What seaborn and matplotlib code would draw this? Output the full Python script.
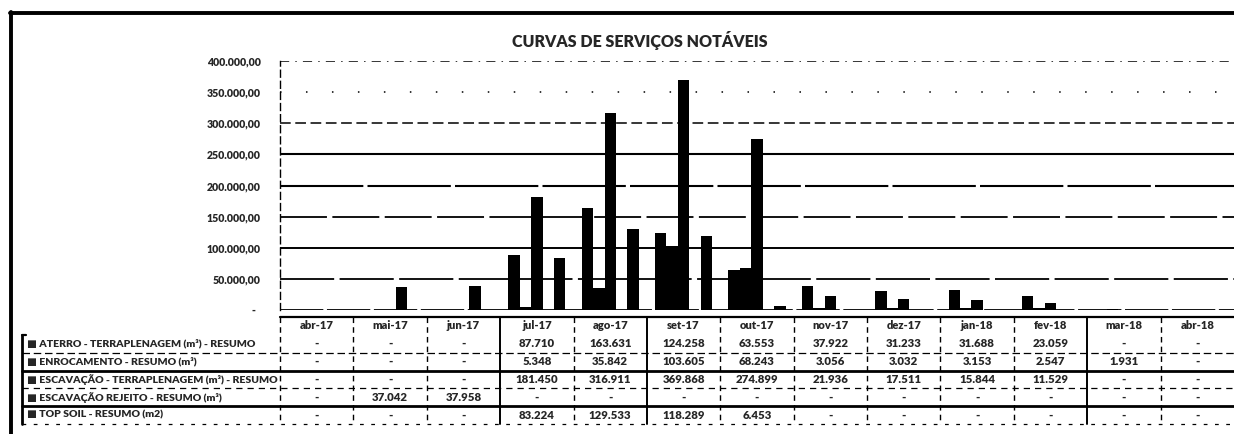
import matplotlib
matplotlib.use("Agg")
import matplotlib.pyplot as plt
import matplotlib.transforms as mtransforms
from matplotlib.lines import Line2D
import numpy as np
import pandas as pd
import seaborn as sns

# ---- data -------------------------------------------------------------
meses = ["abr-17", "mai-17", "jun-17", "jul-17", "ago-17", "set-17", "out-17",
         "nov-17", "dez-17", "jan-18", "fev-18", "mar-18", "abr-18"]

series = ["ATERRO - TERRAPLENAGEM (m³) - RESUMO",
          "ENROCAMENTO - RESUMO (m³)",
          "ESCAVAÇÃO - TERRAPLENAGEM (m³) - RESUMO",
          "ESCAVAÇÃO REJEITO - RESUMO (m³)",
          "TOP SOIL - RESUMO (m2)"]

aterro      = [0, 0, 0, 87710, 163631, 124258, 63553, 37922, 31233, 31688, 23059, 0, 0]
enrocamento = [0, 0, 0, 5348, 35842, 103605, 68243, 3056, 3032, 3153, 2547, 1931, 0]
escavacao   = [0, 0, 0, 181450, 316911, 369868, 274899, 21936, 17511, 15844, 11529, 0, 0]
rejeito     = [0, 37042, 37958, 0, 0, 0, 0, 0, 0, 0, 0, 0, 0]
top_soil    = [0, 0, 0, 83224, 129533, 118289, 6453, 0, 0, 0, 0, 0, 0]

y_ticks = [0, 50000, 100000, 150000, 200000, 250000, 300000, 350000, 400000]

valores = [aterro, enrocamento, escavacao, rejeito, top_soil]

df = pd.DataFrame(
    [(m, s, v) for s, vals in zip(series, valores) for m, v in zip(meses, vals)],
    columns=["mes", "serie", "valor"],
)

# ---- style ------------------------------------------------------------
sns.set_style("white")
plt.rcParams["font.family"] = ["Lato", "DejaVu Sans"]
plt.rcParams["font.weight"] = "bold"
PESO = "heavy"

W, H = 1234, 434
fig = plt.figure(figsize=(W / 100, H / 100), dpi=100)
fig.patch.set_facecolor("white")

x_left, x_right = 280, 1234
ax = fig.add_axes([x_left / W, 1 - 310 / H, (x_right - x_left) / W, (310 - 61) / H])

sns.barplot(data=df, x="mes", y="valor", hue="serie", hue_order=series,
            order=meses, palette=["black"] * len(series), saturation=1,
            width=0.78, errorbar=None, legend=False, ax=ax, zorder=3)
for p in ax.patches:
    p.set_edgecolor("none")

ax.set_xlim(-0.5, len(meses) - 0.5)
ax.set_ylim(0, max(y_ticks))
ax.set_xlabel("")
ax.set_ylabel("")
ax.set_xticks([])


def fmt_eixo(v):
    if v == 0:
        return "-  "
    return f"{v:,.2f}".replace(",", "X").replace(".", ",").replace("X", ".")


def fmt_tab(v):
    if v == 0:
        return "-"
    return f"{v:,.0f}".replace(",", ".")


ax.set_yticks(y_ticks)
ax.set_yticklabels([fmt_eixo(t) for t in y_ticks], fontsize=7.6, fontweight=PESO)
ax.tick_params(axis="y", length=0, pad=14)

for s in ["top", "right", "bottom"]:
    ax.spines[s].set_visible(False)
ax.spines["left"].set_linestyle((0, (5, 3)))
ax.spines["left"].set_linewidth(1.0)
ax.spines["left"].set_color("black")

# gridlines, drawn in the coarse look of a photocopied sheet
grid_styles = {
    0: ((0, (24, 2)), 1.3),
    50000: ((0, (30, 3)), 1.3),
    100000: ("-", 1.4),
    150000: ((0, (26, 3)), 1.3),
    200000: ((0, (40, 2)), 1.5),
    250000: ("-", 1.5),
    300000: ((0, (7, 3)), 1.1),
    350000: ((0, (1, 16)), 1.1),
    400000: ((0, (6, 4, 1, 4)), 1.1),
}
for t in y_ticks:
    ls, lw = grid_styles[t]
    ax.axhline(t, color="black", linestyle=ls, linewidth=lw, zorder=1)

# ---- data table -------------------------------------------------------
tab_top, tab_bot = 317, 424
axt = fig.add_axes([x_left / W, 1 - tab_bot / H, (x_right - x_left) / W, (tab_bot - tab_top) / H])
axt.set_xlim(-0.5, len(meses) - 0.5)
axt.set_ylim(len(series) + 1, 0)
axt.axis("off")

for i, m in enumerate(meses):
    axt.text(i, 0.5, m, ha="center", va="center", fontsize=8, fontweight=PESO)
for r, vals in enumerate(valores, start=1):
    for i, v in enumerate(vals):
        axt.text(i, r + 0.5, fmt_tab(v), ha="center", va="center",
                 fontsize=8.2, fontweight=PESO)

blend = mtransforms.blended_transform_factory(fig.transFigure, axt.transData)
lab_x = 27 / W
for r, s in enumerate(series, start=1):
    axt.text(lab_x, r + 0.5, "■ " + s, transform=blend, ha="left", va="center",
             fontsize=7.55, fontweight=PESO, clip_on=False)

# horizontal rules of the table
x0_fig, x1_fig = 22 / W, 1.0
h_rules = [(0, "-", 1.6, False), (2, (0, (6, 3)), 0.9, True), (3, "-", 2.0, True),
           (4, (0, (5, 4)), 0.9, True), (5, "-", 2.0, True), (6, (0, (3, 6)), 0.9, True)]
for y, ls, lw, full in h_rules:
    xs = [x0_fig if full else x_left / W, x1_fig]
    axt.add_line(Line2D(xs, [y, y], transform=blend, color="black",
                        linestyle=ls, linewidth=lw, clip_on=False))

# vertical rules between months
solid_cols = {3, 5, 11}
for k in range(len(meses)):
    ls = "-" if k in solid_cols else (0, (4, 3))
    lw = 1.4 if k in solid_cols else 1.0
    axt.add_line(Line2D([k - 0.5, k - 0.5], [0, len(series) + 1], color="black",
                        linestyle=ls, linewidth=lw, clip_on=False))

# left bracket of the legend column
axt.add_line(Line2D([x0_fig, x0_fig], [1, len(series) + 1], transform=blend,
                    color="black", linewidth=2.0, clip_on=False))
axt.add_line(Line2D([x0_fig, 26 / W], [1, 1], transform=blend,
                    color="black", linewidth=1.6, clip_on=False))

# ---- title and outer frame --------------------------------------------
fig.text(640 / W, 1 - 40 / H, "CURVAS DE SERVIÇOS NOTÁVEIS", ha="center",
         va="center", fontsize=11.5, fontweight=PESO)

fig.add_artist(Line2D([10 / W, 1.0], [1 - 13 / H, 1 - 13 / H],
                      transform=fig.transFigure, color="black", linewidth=2.8))
fig.add_artist(Line2D([11 / W, 11 / W], [1 - 12 / H, 0.0],
                      transform=fig.transFigure, color="black", linewidth=2.8))

fig.savefig("out.png", dpi=100, facecolor="white")
